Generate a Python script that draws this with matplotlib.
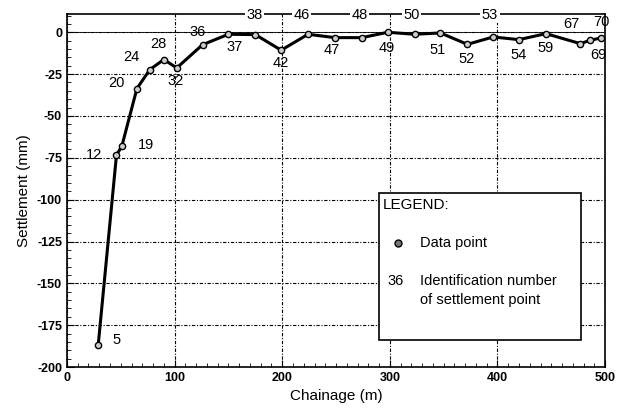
import matplotlib
matplotlib.use("Agg")
import matplotlib.pyplot as plt
from matplotlib.ticker import MultipleLocator
from matplotlib.patches import Rectangle

plt.rcParams['font.family'] = ['Liberation Sans', 'DejaVu Sans']
plt.rcParams['axes.unicode_minus'] = False

# settlement points
chainage = [29, 46, 51, 65, 77, 90, 102, 126, 150, 175, 199, 224, 249, 274,
            298, 323, 347, 372, 396, 420, 445, 477, 486, 496]
settlement = [-187, -73.4, -68, -33.6, -22.3, -16.3, -21.3, -7.4, -1.2, -1.4,
              -10.7, -1.2, -3.2, -3.2, 0, -1.2, -0.4, -7.2, -2.8, -4.4, -0.8,
              -6.8, -4.8, -3.4]
point_ids = ['5', '12', '19', '20', '24', '28', '32', '36', '37', '38', '42',
             '46', '47', '48', '49', '50', '51', '52', '53', '54', '59', '67',
             '69', '70']
# where each id number is written (x, y in data units, alignment)
label_pos = [(42, -184, 'left'), (33, -73.4, 'right'), (66, -67.5, 'left'),
             (46, -30.5, 'center'), (60, -15, 'center'), (85, -6.8, 'center'),
             (101, -29, 'center'), (121, 0, 'center'), (156, -9, 'center'),
             (174, 10.3, 'center'), (199, -18.5, 'center'), (218, 10.3, 'center'),
             (246, -10.4, 'center'), (272, 10.3, 'center'), (297, -9.4, 'center'),
             (320, 10.3, 'center'), (344, -10.4, 'center'), (371, -16, 'center'),
             (393, 10.3, 'center'), (420, -13.3, 'center'), (445, -9.4, 'center'),
             (469, 4.7, 'center'), (494, -13.3, 'center'), (497, 6, 'center')]

fig = plt.figure(figsize=(6.2, 4.2), dpi=100)
ax = fig.add_axes([0.108, 0.126, 0.868, 0.841])

ax.set_xlim(0, 500)
ax.set_ylim(-200, 11)
ax.xaxis.set_major_locator(MultipleLocator(100))
ax.xaxis.set_minor_locator(MultipleLocator(10))
ax.yaxis.set_major_locator(MultipleLocator(25))
ax.yaxis.set_minor_locator(MultipleLocator(5))
ax.tick_params(which='both', direction='in', top=False, right=False, labelsize=9)
ax.tick_params(which='major', length=5)
ax.tick_params(which='minor', length=3)
for lab in ax.get_xticklabels() + ax.get_yticklabels():
    lab.set_fontweight('bold')

ax.grid(True, which='major', color='black', linewidth=0.8, linestyle=(0, (3, 1.5, 1, 1.5)))
ax.axhline(0, color='black', linewidth=0.6, zorder=1)
for s in ax.spines.values():
    s.set_linewidth(1.2)

ax.plot(chainage, settlement, color='black', linewidth=2.2, marker='o', markersize=4.5,
        markerfacecolor='#cccccc', markeredgecolor='black', markeredgewidth=1.0, zorder=3)

for pid, (lx, ly, ha) in zip(point_ids, label_pos):
    kw = {}
    if ly > 8:
        kw['bbox'] = dict(facecolor='white', edgecolor='none', pad=1)
    ax.text(lx, ly, pid, ha=ha, va='center', fontsize=10.5, zorder=5, clip_on=False, **kw)

ax.set_xlabel('Chainage (m)', fontsize=11)
ax.set_ylabel('Settlement (mm)', fontsize=11)

# legend box drawn as in the figure
ax.add_patch(Rectangle((290, -184), 188, 88, facecolor='white', edgecolor='black',
                       linewidth=1.2, zorder=4))
ax.text(293, -103, 'LEGEND:', fontsize=11, va='center', zorder=5)
ax.plot([308], [-126], marker='o', markersize=5, markerfacecolor='#777777',
        markeredgecolor='black', zorder=5)
ax.text(328, -126, 'Data point', fontsize=10.5, va='center', zorder=5)
ax.text(298, -148.5, '36', fontsize=10.5, va='center', zorder=5)
ax.text(328, -148.5, 'Identification number', fontsize=10.5, va='center', zorder=5)
ax.text(328, -160, 'of settlement point', fontsize=10.5, va='center', zorder=5)

fig.savefig('out.png', dpi=100)
